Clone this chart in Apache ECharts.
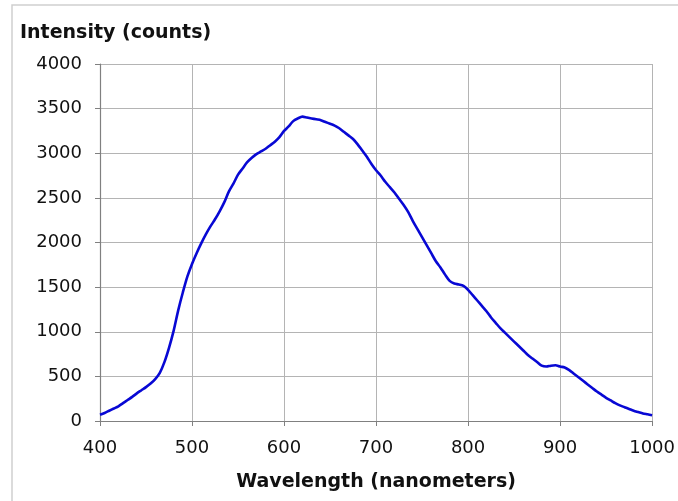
<!DOCTYPE html>
<html>
<head>
<meta charset="utf-8">
<script src="https://cdn.jsdelivr.net/npm/echarts@6/dist/echarts.min.js"></script>
<style>html,body{margin:0;padding:0;background:#fff}#c{width:678px;height:501px}</style>
</head>
<body>
<div id="c"></div>
<script>
var wavelengths = [];
for (var w = 400; w <= 1000; w += 5) wavelengths.push(w);
var intensity = [
  70, 90, 115, 140, 165, 200, 235, 270, 310, 345,
  380, 420, 470, 540, 660, 820, 1010, 1240, 1440, 1620,
  1760, 1880, 1990, 2090, 2180, 2260, 2350, 2450, 2570, 2660,
  2760, 2830, 2900, 2950, 2990, 3020, 3050, 3090, 3130, 3180,
  3250, 3300, 3360, 3390, 3410, 3400, 3390, 3380, 3370, 3350,
  3330, 3310, 3280, 3240, 3200, 3160, 3100, 3030, 2960, 2880,
  2810, 2750, 2680, 2620, 2560, 2490, 2420, 2340, 2240, 2150,
  2060, 1970, 1880, 1790, 1720, 1640, 1570, 1540, 1530, 1515,
  1470, 1410, 1350, 1290, 1230, 1160, 1100, 1040, 990, 940,
  890, 840, 790, 740, 700, 660, 620, 610, 620, 625,
  610, 600, 570, 530, 490, 450, 410, 370, 330, 295,
  260, 230, 200, 175, 155, 135, 115, 100, 85, 75,
  65
];
var xTitle = 'Wavelength (nanometers)';
var yTitle = 'Intensity (counts)';

var seriesData = wavelengths.map(function (x, i) { return [x, intensity[i]]; });
var font = 'DejaVu Sans';
var plain = function (v) { return String(v); };
var chart = echarts.init(document.getElementById('c'), null, {renderer: 'canvas'});
chart.setOption({
  animation: false,
  backgroundColor: '#fff',
  graphic: [{
    type: 'rect', z: -10, silent: true,
    shape: {x: 12, y: 5, width: 700, height: 520},
    style: {fill: 'none', stroke: '#cfcfcf', lineWidth: 1.5}
  }],
  title: {
    text: yTitle, left: 15, top: 19,
    textStyle: {fontFamily: font, fontWeight: 'bold', fontSize: 19, color: '#111'}
  },
  grid: {left: 100, right: 24, top: 64, bottom: 80},
  xAxis: {
    type: 'value', min: 400, max: 1000, interval: 100,
    name: xTitle, nameLocation: 'middle', nameGap: 52,
    nameTextStyle: {fontFamily: font, fontWeight: 'bold', fontSize: 19, color: '#111'},
    axisLine: {show: true, onZero: false, lineStyle: {color: '#808080', width: 1.2}},
    axisTick: {show: true, length: 5, lineStyle: {color: '#808080'}},
    axisLabel: {fontFamily: font, fontSize: 18, color: '#111', margin: 18, formatter: plain},
    splitLine: {show: true, lineStyle: {color: '#b4b4b4', width: 1}}
  },
  yAxis: {
    type: 'value', min: 0, max: 4000, interval: 500,
    axisLine: {show: true, lineStyle: {color: '#808080', width: 1.2}},
    axisTick: {show: true, length: 5, lineStyle: {color: '#808080'}},
    axisLabel: {fontFamily: font, fontSize: 18, color: '#111', margin: 18, formatter: plain},
    splitLine: {show: true, lineStyle: {color: '#b4b4b4', width: 1}}
  },
  series: [{
    type: 'line', data: seriesData, showSymbol: false, smooth: 0.3,
    lineStyle: {color: '#0808d4', width: 2.6}
  }]
});
</script>
</body>
</html>
